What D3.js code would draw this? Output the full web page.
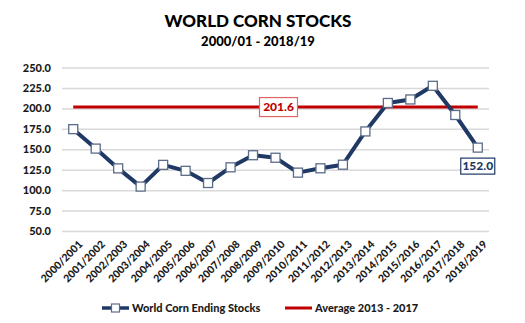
<!DOCTYPE html>
<html><head><meta charset="utf-8">
<script src="https://cdn.jsdelivr.net/npm/d3@7"></script>
<style>body{margin:0;background:#fff;}svg{display:block;font-family:Lato,"Open Sans",sans-serif;}</style>
</head><body>
<script>
const categories = ["2000/2001","2001/2002","2002/2003","2003/2004","2004/2005","2005/2006","2006/2007","2007/2008","2008/2009","2009/2010","2010/2011","2011/2012","2012/2013","2013/2014","2014/2015","2015/2016","2016/2017","2017/2018","2018/2019"];
const stocks = [174.6,150.8,126.6,104.3,130.9,123.6,108.7,127.9,142.7,139.6,121.4,126.7,131.1,171.8,206.6,210.9,227.6,191.9,152.0];
const averageValue = 201.6;
const yTicks = [50,75,100,125,150,175,200,225,250];
const seriesNames = ["World Corn Ending Stocks","Average 2013 - 2017"];
const titleText = "WORLD CORN STOCKS";
const subtitleText = "2000/01 - 2018/19";

(function(){
const W = 525, H = 323;
const svg = d3.select("body").append("svg").attr("width", W).attr("height", H);
const pLeft = 62, pRight = 489, pTop = 67.5, pBottom = 231;
const x = d3.scaleBand().domain(categories).range([pLeft, pRight]);
const cx = c => x(c) + x.bandwidth()/2;
const y = d3.scaleLinear().domain([50,250]).range([pBottom, pTop]);
const heavy = 900;

svg.append("text").attr("x", 258).attr("y", 27).attr("text-anchor","middle")
  .attr("font-size", 17).attr("font-weight",heavy).attr("fill","#000").text(titleText);
svg.append("text").attr("x", 258).attr("y", 46).attr("text-anchor","middle")
  .attr("font-size", 13).attr("font-weight",heavy).attr("fill","#000").text(subtitleText);

// grid
const grid = svg.append("g").attr("transform",`translate(${pLeft},0)`)
  .call(d3.axisLeft(y).tickValues(yTicks).tickSize(-(pRight-pLeft)).tickFormat(""));
grid.select(".domain").remove();
grid.selectAll("line").attr("stroke","#d9d9d9").attr("stroke-width",1.5);

// y axis labels
const ya = svg.append("g").attr("transform",`translate(${pLeft},0)`)
  .call(d3.axisLeft(y).tickValues(yTicks).tickSize(0).tickPadding(11).tickFormat(d3.format(".1f")));
ya.select(".domain").remove();
ya.selectAll("text").attr("font-size",11).attr("font-weight",heavy).attr("fill","#1a1a1a").attr("font-family","Lato,sans-serif");

// x axis labels
const xa = svg.append("g").attr("transform",`translate(0,${pBottom})`)
  .call(d3.axisBottom(x).tickSize(0).tickPadding(0));
xa.select(".domain").remove();
xa.selectAll("text").attr("font-size",10.5).attr("font-weight",heavy).attr("fill","#1a1a1a")
  .attr("font-family","Lato,sans-serif")
  .attr("text-anchor","end").attr("dy",0)
  .attr("transform","translate(10,14) rotate(-45)");

// average line
svg.append("line").attr("x1", cx(categories[0])).attr("x2", cx(categories[categories.length-1]))
  .attr("y1", y(averageValue)).attr("y2", y(averageValue)).attr("stroke","#c00000").attr("stroke-width",3);

// series line
const line = d3.line().x((d,i)=>cx(categories[i])).y(d=>y(d));
svg.append("path").datum(stocks).attr("d", line).attr("fill","none")
  .attr("stroke","#1f3864").attr("stroke-width",4).attr("stroke-linejoin","round");
svg.selectAll("rect.m").data(stocks).enter().append("rect").attr("class","m")
  .attr("x",(d,i)=>cx(categories[i])-4.5).attr("y",d=>y(d)-4.5).attr("width",9).attr("height",9)
  .attr("fill","#fff").attr("stroke","#5b6c88").attr("stroke-width",1.3);

// average label
const avgMid = (cx(categories[0]) + cx(categories[categories.length-1]))/2 + 3;
svg.append("rect").attr("x", avgMid-19).attr("y", y(averageValue)-9.5).attr("width",38).attr("height",19)
  .attr("fill","#fff").attr("stroke","#e06666").attr("stroke-width",1.2);
svg.append("text").attr("x", avgMid).attr("y", y(averageValue)+4).attr("text-anchor","middle")
  .attr("font-size",12).attr("font-weight",heavy).attr("fill","#c00000").text(d3.format(".1f")(averageValue));

// last label
const lastC = categories[categories.length-1], lastV = stocks[stocks.length-1];
svg.append("rect").attr("x", cx(lastC)-17).attr("y", y(lastV)+10.5).attr("width",34).attr("height",16)
  .attr("fill","#fff").attr("stroke","#1f3864").attr("stroke-width",1.2);
svg.append("text").attr("x", cx(lastC)).attr("y", y(lastV)+22.5).attr("text-anchor","middle")
  .attr("font-size",12).attr("font-weight",heavy).attr("fill","#1f3864").text(d3.format(".1f")(lastV));

// legend
const ly = 308;
const lg = svg.append("g");
lg.append("line").attr("x1",102).attr("x2",129).attr("y1",ly).attr("y2",ly).attr("stroke","#1f3864").attr("stroke-width",3.5);
lg.append("rect").attr("x",111.5).attr("y",ly-4).attr("width",8).attr("height",8).attr("fill","#fff").attr("stroke","#5b6c88").attr("stroke-width",1.2);
lg.append("text").attr("x",132).attr("y",ly+4).attr("font-size",11).attr("font-weight",heavy).attr("fill","#1a1a1a").text(seriesNames[0]);
lg.append("line").attr("x1",285).attr("x2",312).attr("y1",ly).attr("y2",ly).attr("stroke","#c00000").attr("stroke-width",3);
lg.append("text").attr("x",315).attr("y",ly+4).attr("font-size",11).attr("font-weight",heavy).attr("fill","#1a1a1a").text(seriesNames[1]);
})();
</script>
</body></html>
